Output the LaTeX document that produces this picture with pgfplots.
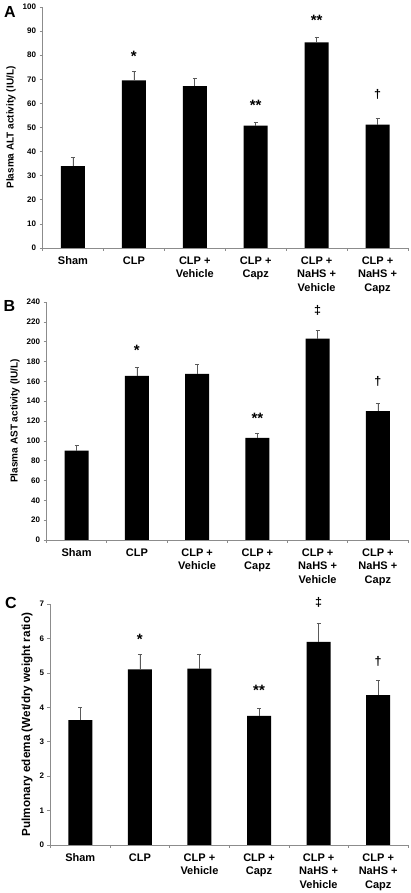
\documentclass[border=0pt]{standalone}
\usepackage{pgfplots}
\pgfplotsset{compat=1.18}
\usepackage{fontspec}
\setmainfont{Liberation Sans}
\definecolor{axgray}{HTML}{8C8C8C}
\definecolor{errgray}{HTML}{5A5A5A}
\newcommand{\dg}{{\fontsize{12.5}{13}\selectfont †}}
\newcommand{\ddg}{{\fontsize{12.5}{13}\selectfont ‡}}

\pgfplotstableread{
x y e
0 34.0 3.6
1 69.5 4.0
2 67.2 3.3
3 50.8 1.3
4 85.3 2.3
5 51.2 2.6
}\dataA
\pgfplotstableread{
x y lab
1 79.5 *
3 59.1 **
4 94.6 **
5 63.6 \dg
}\annA
\pgfplotstableread{
x y e
0 90 5.5
1 165.5 8.5
2 167.5 9.5
3 103 5
4 203 8.5
5 130 8
}\dataB
\pgfplotstableread{
x y lab
1 191 *
3 123 **
4 232 \ddg
5 160 \dg
}\annB
\pgfplotstableread{
x y e
0 3.63 0.37
1 5.10 0.43
2 5.12 0.42
3 3.75 0.22
4 5.90 0.55
5 4.35 0.43
}\dataC
\pgfplotstableread{
x y lab
1 5.98 *
3 4.48 **
4 7.05 \ddg
5 5.33 \dg
}\annC

\pgfplotsset{panel/.style={
  scale only axis,
  axis x line*=bottom, axis y line*=left,
  axis line style={axgray, line width=0.7pt},
  xmin=-0.5, xmax=5.5, ymin=0,
  xtick={0,...,5},
  xticklabels={Sham,CLP,CLP +\\Vehicle,CLP +\\Capz,CLP +\\NaHS +\\Vehicle,CLP +\\NaHS +\\Capz},
  xticklabel style={align=center, font=\fontsize{11}{13.5}\selectfont\bfseries, anchor=north, yshift=-2pt},
  major x tick style={draw=none},
  minor xtick={-0.5,0.5,1.5,2.5,3.5,4.5,5.5},
  minor x tick style={axgray, line width=0.6pt},
  minor tick length=3pt,
  major tick length=3pt,
  tick align=outside,
  ytick style={axgray, line width=0.6pt},
  yticklabel={\bfseries\pgfmathprintnumber[assume math mode=true]{\tick}},
  yticklabel style={font=\fontsize{8}{9}\selectfont\bfseries},
  ylabel style={font=\fontsize{10.4}{12}\selectfont\bfseries},
  ylabel near ticks,
  clip=false,
}}

\newcommand{\bars}[1]{%
  \addplot[ybar, bar width=24pt, fill=black, draw=none,
    error bars/.cd, y dir=plus, y explicit,
    error bar style={errgray, line width=0.7pt},
    error mark options={rotate=90, mark size=2pt, errgray, line width=0.7pt}]
    table[x=x, y=y, y error=e]{#1};}
\newcommand{\ann}[1]{%
  \addplot[draw=none, mark=none, nodes near coords, point meta=explicit symbolic,
    nodes near coords style={anchor=center, font=\fontsize{15}{15}\selectfont\bfseries}]
    table[x=x, y=y, meta=lab]{#1};}

\begin{document}
\begin{tikzpicture}
\useasboundingbox (0,0) rectangle (411pt,893pt);
% Panel A
\begin{axis}[panel, at={(42.5pt,645pt)}, anchor=south west, width=365.5pt, height=241pt,
  ymax=100, ytick={0,10,...,100}, ylabel={\bfseries Plasma ALT activity (IU/L)}]
\bars{\dataA}
\ann{\annA}
\end{axis}
\node[font=\fontsize{16}{16}\selectfont\bfseries] at (10pt,880.5pt) {A};
% Panel B
\begin{axis}[panel, at={(46.5pt,353pt)}, anchor=south west, width=361.5pt, height=238pt,
  ymax=240, ytick={0,20,...,240}, ylabel={\bfseries Plasma AST activity (IU/L)}]
\bars{\dataB}
\ann{\annB}
\end{axis}
\node[font=\fontsize{16}{16}\selectfont\bfseries] at (9.5pt,587pt) {B};
% Panel C
\begin{axis}[panel, at={(50.5pt,48pt)}, anchor=south west, width=357.5pt, height=241pt,
  ymax=7, ytick={0,1,...,7},
  ylabel style={font=\fontsize{11.7}{13}\selectfont\bfseries},
  ylabel={\bfseries Pulmonary edema (Wet/dry weight ratio)}]
\bars{\dataC}
\ann{\annC}
\end{axis}
\node[font=\fontsize{16}{16}\selectfont\bfseries] at (11pt,290pt) {C};
\end{tikzpicture}
\end{document}
